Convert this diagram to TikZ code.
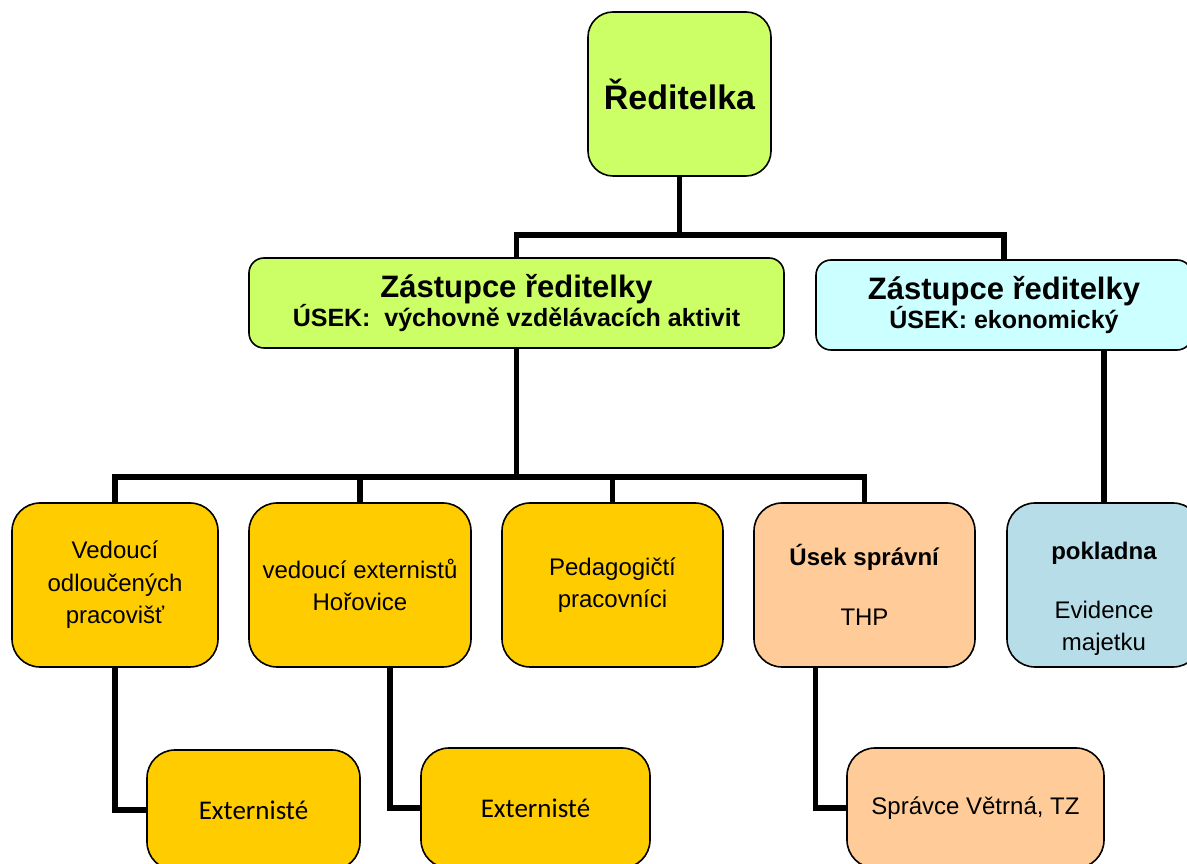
\documentclass[tikz,border=0pt]{standalone}
\usepackage{fontspec}
\setmainfont{Liberation Sans}
\newfontfamily\calfont{Carlito}
\definecolor{cgreen}{HTML}{CCFF66}
\definecolor{ccyan}{HTML}{CCFFFF}
\definecolor{cyell}{HTML}{FFCC00}
\definecolor{cpeach}{HTML}{FFCC99}
\definecolor{cblue}{HTML}{B7DEE8}
\begin{document}
\begin{tikzpicture}[x=1pt,y=1pt,
  box/.style={draw=black,line width=1.6pt,inner sep=0pt,align=center,rounded corners=#1},
  box/.default=28pt,
  conn/.style={line width=5.5pt,black},
  regtxt/.style={font=\fontsize{24}{32.5}\selectfont},
  caltxt/.style={font=\calfont\fontsize{27}{30}\selectfont},
]
\path[use as bounding box] (0,0) rectangle (1187,863);
\clip (0,0) rectangle (1187,863);

% top
\node[box=25pt,fill=cgreen,minimum width=183pt,minimum height=164pt,font=\fontsize{34}{40}\selectfont\bfseries] (red) at (679.5,769) {\raisebox{-3pt}{Ředitelka}};
\node[box=15pt,fill=cgreen,minimum width=535pt,minimum height=90pt] (zr1) at (516.5,560)
  {{\fontsize{31}{32}\selectfont\bfseries Zástupce ředitelky}\\[-1pt]{\fontsize{25}{31}\selectfont\bfseries ÚSEK:\ \ výchovně vzdělávacích aktivit}};
\node[box=15pt,fill=ccyan,minimum width=376pt,minimum height=90pt] (zr2) at (1004,558)
  {{\fontsize{31}{33}\selectfont\bfseries Zástupce ředitelky}\\[-1pt]{\fontsize{25}{33}\selectfont\bfseries ÚSEK: ekonomický}};

% middle row
\node[box,fill=cyell,minimum width=206pt,minimum height=164pt,regtxt] (v1) at (115,278)
  {Vedoucí\\odloučených\\pracovišť};
\node[box,fill=cyell,minimum width=222pt,minimum height=164pt,regtxt] (v2) at (360,278)
  {vedoucí externistů\\Hořovice};
\node[box,fill=cyell,minimum width=221pt,minimum height=164pt,regtxt] (v3) at (612.5,278)
  {Pedagogičtí\\pracovníci};
\node[box,fill=cpeach,minimum width=221pt,minimum height=164pt,regtxt] (v4) at (864.5,278)
  {\textbf{Úsek správní}\\[28pt]THP};
\node[box,fill=cblue,minimum width=194pt,minimum height=164pt] (pok) at (1104,278) {};
\node[regtxt,align=center,inner sep=0pt] (pokt) at (1104,264)
  {\textbf{pokladna}\\[26.5pt]Evidence\\majetku};

% bottom row
\node[box,fill=cyell,minimum width=213pt,minimum height=120pt,caltxt] (e1) at (253.5,53) {Externisté};
\node[box,fill=cyell,minimum width=229pt,minimum height=120pt,caltxt] (e2) at (535.5,55) {Externisté};
\node[box,fill=cpeach,minimum width=257pt,minimum height=120pt,regtxt] (e3) at (975.5,55) {Správce Větrná, TZ};

% connectors
\coordinate (b1) at (679.5,628);
\coordinate (b2) at (516.5,386);
\draw[conn] (red.south) -- (b1);
\draw[conn] (zr1.north) |- (b1) -| (zr2.north);
\draw[conn] (zr1.south) -- (b2);
\draw[conn] (v1.north) |- (b2) -| (v4.north);
\draw[conn] (v2.north) -- (v2.north |- b2);
\draw[conn] (v3.north) -- (v3.north |- b2);
\draw[conn] (pok.north) -- (pok.north |- zr2.south);
\draw[conn] (v1.south) |- (e1.west);
\draw[conn] ([xshift=30pt]v2.south) |- (e2.west);
\draw[conn] ([xshift=-49pt]v4.south) |- (e3.west);
\end{tikzpicture}
\end{document}
